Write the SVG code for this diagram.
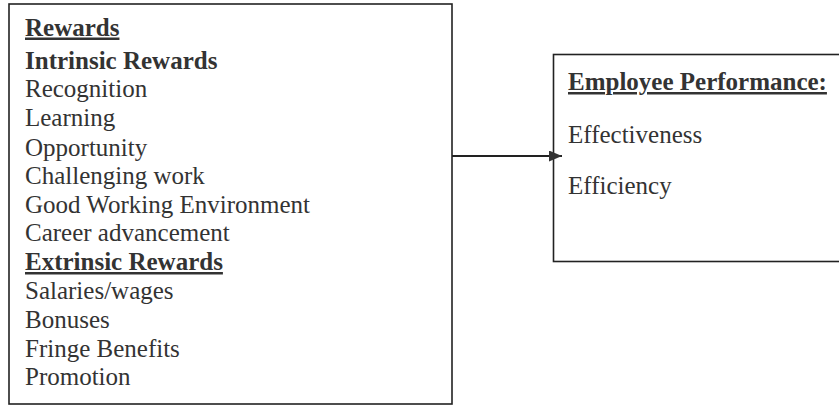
<svg xmlns="http://www.w3.org/2000/svg" width="839" height="405" viewBox="0 0 839 405">
<style>
.box{fill:#fff;stroke:#222;stroke-width:1.6}
.t{font-family:"Liberation Serif","Times New Roman",serif;font-size:25px;fill:#333}
.b{font-weight:bold}
.u{text-decoration:underline}
.conn{stroke:#222;stroke-width:1.8;fill:none}
</style>
<defs>
<marker id="arr" markerWidth="13" markerHeight="11" refX="13" refY="5.5" orient="auto" markerUnits="userSpaceOnUse">
<path d="M0,0 L13,5.5 L0,11 Z" fill="#333"/>
</marker>
</defs>
<rect width="839" height="405" fill="#fff"/>
<g id="rewards">
<rect class="box" x="9" y="4" width="443" height="400"/>
<text class="t b u" x="25" y="35.5">Rewards</text>
<text class="t b" x="25" y="68.5">Intrinsic Rewards</text>
<text class="t" x="25" y="97">Recognition</text>
<text class="t" x="25" y="126">Learning</text>
<text class="t" x="25" y="155.5">Opportunity</text>
<text class="t" x="25" y="184">Challenging work</text>
<text class="t" x="25" y="212.5">Good Working Environment</text>
<text class="t" x="25" y="241">Career advancement</text>
<text class="t b u" x="25" y="270">Extrinsic Rewards</text>
<text class="t" x="25" y="299">Salaries/wages</text>
<text class="t" x="25" y="328">Bonuses</text>
<text class="t" x="25" y="356.5">Fringe Benefits</text>
<text class="t" x="25" y="385">Promotion</text>
</g>
<g id="performance">
<rect class="box" x="553.5" y="54.5" width="300" height="207"/>
<text class="t b u" x="568" y="90">Employee Performance:</text>
<text class="t" x="568" y="143">Effectiveness</text>
<text class="t" x="568" y="194">Efficiency</text>
</g>
<g id="connectors">
<line class="conn" x1="452" y1="156" x2="562" y2="156" marker-end="url(#arr)"/>
</g>
</svg>
